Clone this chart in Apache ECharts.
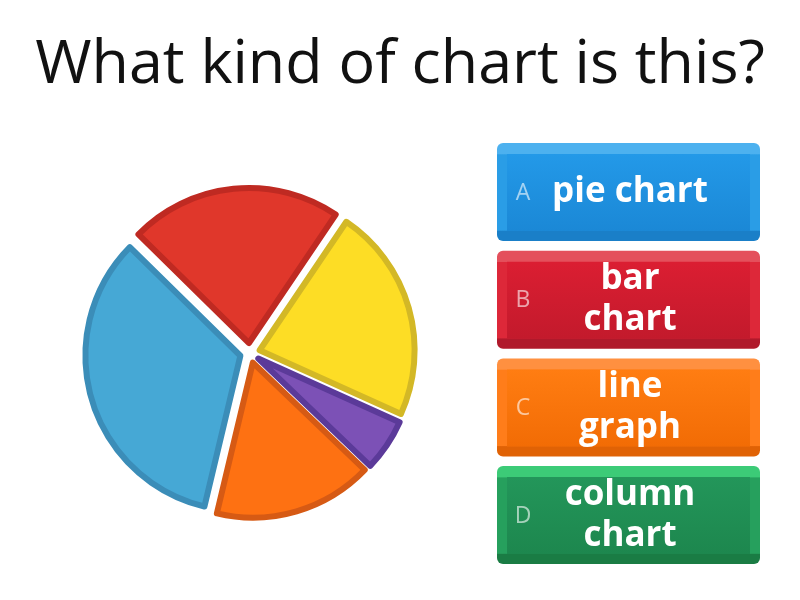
<!DOCTYPE html>
<html><head><meta charset="utf-8">
<script src="https://cdn.jsdelivr.net/npm/echarts@6/dist/echarts.min.js"></script>
<style>html,body{margin:0;padding:0;background:#fff}#c{width:800px;height:600px}</style>
</head><body><div id="c"></div>
<script>
const titleText = 'What kind of chart is this?';
const sliceNames = ['Red', 'Yellow', 'Purple', 'Orange', 'Blue'];
const sliceValues = [22, 22.2, 5.4, 16.5, 33.5];
const sliceFill = ['#E0372B', '#FDDD25', '#7C51B6', '#FE7112', '#46A8D5'];
const sliceEdge = ['#BF2A22', '#D3B826', '#5B3A99', '#D65A14', '#3B8DB8'];
const optionLetters = ['A', 'B', 'C', 'D'];
const optionTexts = ['pie chart', 'bar\nchart', 'line\ngraph', 'column\nchart'];
const btnLight = ['#4DB1EF', '#E4505C', '#FF9040', '#3CCB77'];
const btnSide = ['#2A9DE6', '#DD2839', '#FF7D1A', '#26A05D'];
const btnTop = ['#2399E8', '#DB1E32', '#FF7D12', '#23965A'];
const btnBot = ['#1B88D6', '#C31A2C', '#F26C05', '#1D874E'];
const btnDark = ['#1A7FC8', '#B0192B', '#E06205', '#1A7C44'];

const chart = echarts.init(document.getElementById('c'));
const graphics = [{
  type: 'text', x: 400, y: 66,
  style: { text: titleText, fill: '#111', font: '400 61px "Open Sans"', align: 'center', verticalAlign: 'middle' }
}];
const bx = 497, bw = 263, bh = 98, by0 = 143, gap = 107.7;
optionLetters.forEach((L, i) => {
  const y = by0 + i * gap;
  const lg = (stops) => ({ type: 'linear', x: 0, y: 0, x2: 0, y2: 1, colorStops: stops });
  graphics.push({
    type: 'rect', shape: { x: bx, y: y, width: bw, height: bh, r: 6 },
    style: { fill: lg([{offset:0,color:btnLight[i]},{offset:0.11,color:btnLight[i]},{offset:0.12,color:btnSide[i]},{offset:0.89,color:btnSide[i]},{offset:0.9,color:btnDark[i]},{offset:1,color:btnDark[i]}]) }
  });
  graphics.push({
    type: 'rect', shape: { x: bx + 10, y: y + 11, width: bw - 20, height: bh - 21 },
    style: { fill: lg([{offset:0,color:btnTop[i]},{offset:1,color:btnBot[i]}]) }
  });
  graphics.push({
    type: 'text', x: bx + 26, y: y + bh / 2 + 1,
    style: { text: L, fill: 'rgba(255,255,255,0.6)', font: '400 23px "Open Sans"', align: 'center', verticalAlign: 'middle' }
  });
  graphics.push({
    type: 'text', x: 630, y: y + bh / 2,
    style: { text: optionTexts[i], fill: '#fff', font: '700 35px "Open Sans"', lineHeight: 41, align: 'center', verticalAlign: 'middle' }
  });
});

chart.setOption({
  animation: false,
  graphic: graphics,
  series: [{
    type: 'pie',
    center: [250, 353],
    radius: 155,
    startAngle: 135.5,
    selectedMode: 'multiple',
    selectedOffset: 10,
    silent: true,
    label: { show: false },
    labelLine: { show: false },
    emphasis: { disabled: true },
    data: sliceNames.map((n, i) => ({
      name: n, value: sliceValues[i], selected: true,
      itemStyle: { color: sliceFill[i], borderColor: sliceEdge[i], borderWidth: 6 }
    }))
  }]
});
</script></body></html>
